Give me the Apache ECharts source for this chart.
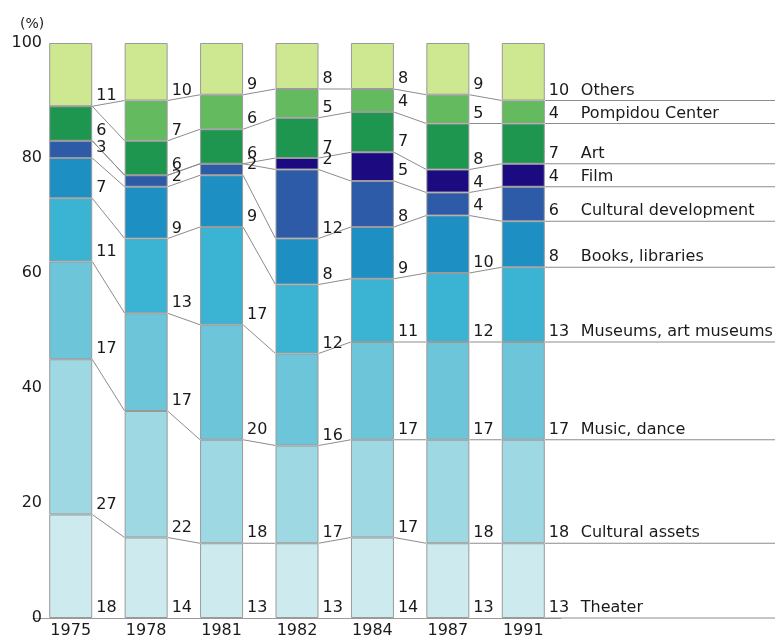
<!DOCTYPE html>
<html>
<head>
<meta charset="utf-8">
<script src="https://cdn.jsdelivr.net/npm/echarts@6/dist/echarts.min.js"></script>
<style>
html,body{margin:0;padding:0;background:#fff;}
#chart{width:779px;height:641px;}
</style>
</head>
<body>
<div id="chart"></div>
<script>
var years = ['1975', '1978', '1981', '1982', '1984', '1987', '1991'];
var categories = ['Theater', 'Cultural assets', 'Music, dance', 'Museums, art museums', 'Books, libraries', 'Cultural development', 'Film', 'Art', 'Pompidou Center', 'Others'];
var theater      = [18, 14, 13, 13, 14, 13, 13];
var culturalAssets = [27, 22, 18, 17, 17, 18, 18];
var musicDance   = [17, 17, 20, 16, 17, 17, 17];
var museums      = [11, 13, 17, 12, 11, 12, 13];
var books        = [7, 9, 9, 8, 9, 10, 8];
var culturalDev  = [3, 2, 2, 12, 8, 4, 6];
var film         = [0, 0, 0, 2, 5, 4, 4];
var art          = [6, 6, 6, 7, 7, 8, 7];
var pompidou     = [0, 7, 6, 5, 4, 5, 4];
var others       = [11, 10, 9, 8, 8, 9, 10];
var yTicks = [0, 20, 40, 60, 80, 100];

var seriesValues = [theater, culturalAssets, musicDance, museums, books, culturalDev, film, art, pompidou, others];
var colors = ['#cdebee', '#9ed8e2', '#6cc5d8', '#3bb4d3', '#1d8fc3', '#2e5ba8', '#1b0a80', '#1e9650', '#64ba5f', '#cde890'];
var BAR_W = 43;
var FONT = 'DejaVu Sans';

// cumulative boundaries
var cum = years.map(function (y, i) {
  var arr = [0];
  var s = 0;
  seriesValues.forEach(function (sv) { s += sv[i]; arr.push(s); });
  return arr;
});

var connectorData = [];
for (var i = 0; i < years.length; i++) {
  for (var k = 0; k <= 9; k++) {
    if (i === years.length - 1) {
      connectorData.push([i, cum[i][k], cum[i][k], 1]);
    } else if (k > 0) {
      connectorData.push([i, cum[i][k], cum[i + 1][k], 0]);
    }
  }
}

var barSeries = seriesValues.map(function (vals, si) {
  return {
    name: categories[si],
    type: 'bar',
    stack: 'total',
    barWidth: BAR_W,
    z: 3,
    itemStyle: { color: colors[si], borderColor: '#9a9a9a', borderWidth: 1 },
    label: {
      show: true,
      position: ['100%', '100%'],
      offset: [4, -2],
      align: 'left',
      verticalAlign: 'bottom',
      color: '#1a1a1a',
      fontFamily: FONT,
      fontSize: 16,
      formatter: function (p) {
        if (!p.value) return '';
        if (p.dataIndex === years.length - 1) {
          return '{a|' + p.value + '}{b|' + categories[si] + '}';
        }
        return String(p.value);
      },
      rich: {
        a: { width: 32, fontSize: 16, fontFamily: FONT, color: '#1a1a1a' },
        b: { fontSize: 16, fontFamily: FONT, color: '#1a1a1a' }
      }
    },
    emphasis: { disabled: true },
    data: vals
  };
});

var connectorSeries = {
  type: 'custom',
  z: 2,
  silent: true,
  renderItem: function (params, api) {
    var i = api.value(0);
    var p1 = api.coord([i, api.value(1)]);
    var x1 = p1[0] + BAR_W / 2;
    var x2, y2;
    if (api.value(3) === 1) {
      x2 = api.getWidth() - 4;
      y2 = p1[1];
    } else {
      var p2 = api.coord([i + 1, api.value(2)]);
      x2 = p2[0] - BAR_W / 2;
      y2 = p2[1];
    }
    return {
      type: 'line',
      shape: { x1: x1, y1: p1[1], x2: x2, y2: y2 },
      style: { stroke: '#8c8c8c', lineWidth: 1 }
    };
  },
  data: connectorData
};

var chart = echarts.init(document.getElementById('chart'));
chart.setOption({
  animation: false,
  backgroundColor: '#fff',
  title: {
    text: '(%)', left: 15, top: 12,
    textStyle: { fontFamily: FONT, fontSize: 14, fontWeight: 'normal', color: '#1a1a1a' }
  },
  grid: { left: 33, right: 218, top: 43, bottom: 23, containLabel: false },
  xAxis: {
    type: 'category',
    data: years,
    axisTick: { show: false },
    axisLine: { show: true, lineStyle: { color: '#9a9a9a', width: 1 } },
    axisLabel: { fontFamily: FONT, fontSize: 16, color: '#1a1a1a', margin: 5 }
  },
  yAxis: {
    type: 'value',
    min: 0, max: 100, interval: 20,
    splitLine: { show: false },
    axisLine: { show: false },
    axisTick: { show: false },
    axisLabel: {
      fontFamily: FONT, fontSize: 16, color: '#1a1a1a', margin: -9,
      formatter: function (v) { return yTicks.indexOf(v) >= 0 ? String(v) : ''; }
    }
  },
  series: barSeries.concat([connectorSeries])
});
</script>
</body>
</html>
